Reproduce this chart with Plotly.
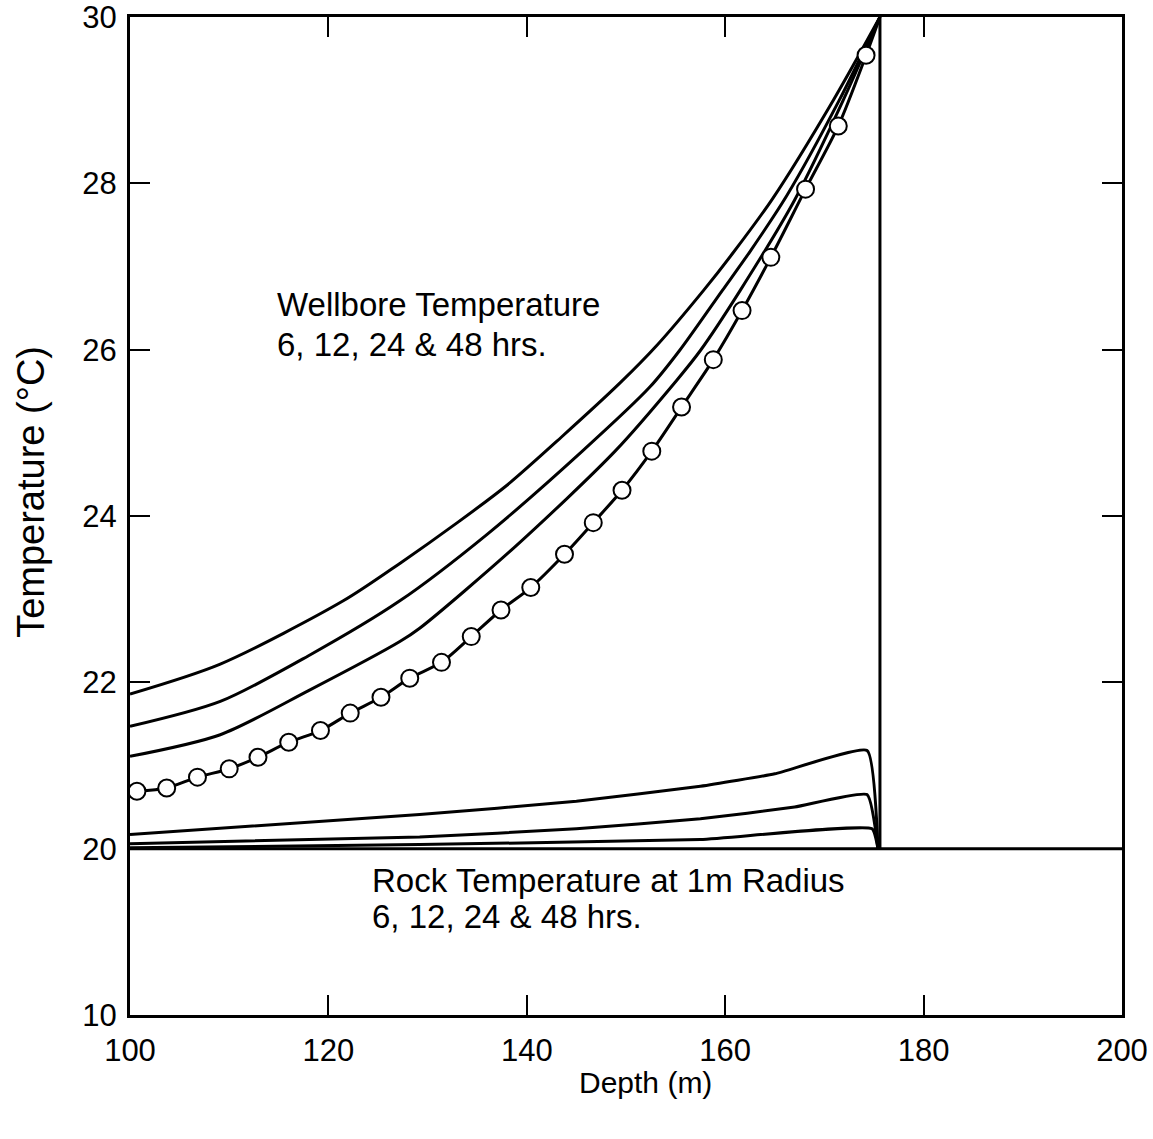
import plotly.graph_objects as go

# ---------------- data ----------------
# Wellbore temperature curves (top to bottom), depth in m, temperature in degC
wb_a_depth = [100.0, 109.1, 121.5, 127.2, 133.0, 138.0, 143.5, 149.4, 153.1, 157.8, 160.7, 164.8, 170.9, 175.6]
wb_a_temp = [21.86, 22.22, 22.98, 23.43, 23.92, 24.37, 24.95, 25.60, 26.05, 26.71, 27.15, 27.82, 29.00, 30.00]

wb_b_depth = [100.0, 109.1, 118.0, 127.2, 136.0, 145.6, 152.4, 155.4, 159.7, 162.5, 166.2, 171.5, 175.6]
wb_b_temp = [21.47, 21.77, 22.32, 22.98, 23.78, 24.78, 25.55, 25.99, 26.71, 27.18, 27.85, 29.00, 30.00]

wb_c_depth = [100.0, 109.1, 118.0, 127.2, 129.2, 139.0, 148.9, 155.1, 157.5, 161.5, 167.0, 171.9, 175.6]
wb_c_temp = [21.11, 21.37, 21.90, 22.49, 22.65, 23.65, 24.78, 25.63, 25.99, 26.71, 27.80, 29.00, 30.00]

# Wellbore curve with open-circle symbols
wb_d_depth = [100.7, 103.7, 106.8, 110.0, 112.9, 116.0, 119.2, 122.2, 125.3, 128.2, 131.4, 134.4,
              137.4, 140.4, 143.8, 146.7, 149.6, 152.6, 155.6, 158.8, 161.7, 164.6, 168.1, 171.4, 174.2]
wb_d_temp = [20.69, 20.73, 20.86, 20.96, 21.10, 21.28, 21.42, 21.63, 21.82, 22.05, 22.24, 22.55,
             22.87, 23.14, 23.54, 23.92, 24.31, 24.78, 25.31, 25.88, 26.47, 27.11, 27.93, 28.69, 29.54]
wb_end_depth = 175.6
wb_end_temp = 30.0

# Rock temperature at 1 m radius
rock_a_depth = [100.0, 129.2, 145.0, 157.5, 165.0, 174.3, 175.4]
rock_a_temp = [20.17, 20.41, 20.57, 20.75, 20.90, 21.18, 20.00]

rock_b_depth = [100.0, 129.2, 145.0, 157.5, 167.0, 174.3, 175.4]
rock_b_temp = [20.06, 20.14, 20.24, 20.36, 20.50, 20.65, 20.00]

rock_c_depth = [100.0, 129.2, 157.5, 174.8, 175.4]
rock_c_temp = [20.01, 20.05, 20.11, 20.24, 20.00]

rock_d_depth = [100.0, 175.4, 200.0]
rock_d_temp = [20.00, 20.00, 20.00]

# Bottom of the well
well_bottom_depth = [175.6, 175.6]
well_bottom_temp = [20.0, 30.0]

# Axis ticks
x_ticks = [100, 120, 140, 160, 180, 200]
y_ticks = [10, 20, 22, 24, 26, 28, 30]


# The reference axis compresses 10-20 degC into the height of 2 degC
def to_axis(t):
    return t if t >= 20 else 20 + (t - 20) * 0.2


def conv(vals):
    return [to_axis(v) for v in vals]


FONT = "Liberation Sans, Arial, Helvetica, sans-serif"

fig = go.Figure()

smooth_curves = [(wb_a_depth, wb_a_temp), (wb_b_depth, wb_b_temp), (wb_c_depth, wb_c_temp),
                 (wb_d_depth + [wb_end_depth], wb_d_temp + [wb_end_temp])]
for d, t in smooth_curves:
    fig.add_trace(go.Scatter(x=d, y=conv(t), mode="lines",
                             line=dict(color="black", width=3, shape="spline", smoothing=0.8),
                             hoverinfo="skip", showlegend=False))

rock_curves = [(rock_a_depth, rock_a_temp), (rock_b_depth, rock_b_temp),
               (rock_c_depth, rock_c_temp)]
for d, t in rock_curves:
    fig.add_trace(go.Scatter(x=d, y=conv(t), mode="lines",
                             line=dict(color="black", width=3, shape="spline", smoothing=0.4),
                             hoverinfo="skip", showlegend=False))

for d, t in [(rock_d_depth, rock_d_temp), (well_bottom_depth, well_bottom_temp)]:
    fig.add_trace(go.Scatter(x=d, y=conv(t), mode="lines",
                             line=dict(color="black", width=3),
                             hoverinfo="skip", showlegend=False))

fig.add_trace(go.Scatter(
    x=wb_d_depth, y=conv(wb_d_temp), mode="markers",
    marker=dict(symbol="circle", size=17, color="white",
                line=dict(color="black", width=2)),
    showlegend=False))

axis_common = dict(
    showgrid=False, zeroline=False, showline=True, linewidth=3, linecolor="black",
    mirror="ticks", ticks="inside", ticklen=20, tickwidth=2, tickcolor="black",
    ticklabeloverflow="allow", automargin=False,
    tickfont=dict(family=FONT, size=31, color="black"),
)

fig.update_layout(
    width=1153, height=1139,
    margin=dict(l=130, r=31, t=17, b=124, autoexpand=False),
    paper_bgcolor="white", plot_bgcolor="white",
    font=dict(family=FONT, color="black"),
    showlegend=False,
    xaxis=dict(range=[100, 200], tickvals=x_ticks, ticktext=[str(v) for v in x_ticks],
               ticklabelstandoff=6, **axis_common),
    yaxis=dict(range=[18, 30], tickvals=conv(y_ticks), ticktext=[str(v) for v in y_ticks],
               ticklabelstandoff=4, **axis_common),
)

# axis titles placed as in the reference
fig.add_annotation(text="Depth (m)", x=0.52, y=-0.068, xref="paper", yref="paper",
                   xanchor="center", yanchor="middle", showarrow=False,
                   font=dict(family=FONT, size=30, color="black"))
fig.add_annotation(text="Temperature (°C)", x=-0.1, y=0.524, xref="paper", yref="paper",
                   xanchor="center", yanchor="middle", textangle=-90, showarrow=False,
                   font=dict(family=FONT, size=38, color="black"))

ann_font = dict(family=FONT, size=33, color="black")
for text, xp, yp in [("Wellbore Temperature", 0.146, 0.7124),
                     ("6, 12, 24 & 48 hrs.", 0.146, 0.672),
                     ("Rock Temperature at 1m Radius", 0.242, 0.1343),
                     ("6, 12, 24 & 48 hrs.", 0.242, 0.0982)]:
    fig.add_annotation(text=text, x=xp, y=yp, xref="paper", yref="paper",
                       xanchor="left", yanchor="middle", showarrow=False, font=ann_font)

# remove the browser's default page margin so the figure sits at the window's corner
fig.write_html("out.html", config={"displayModeBar": False},
               post_script="document.body.style.margin='0';")
